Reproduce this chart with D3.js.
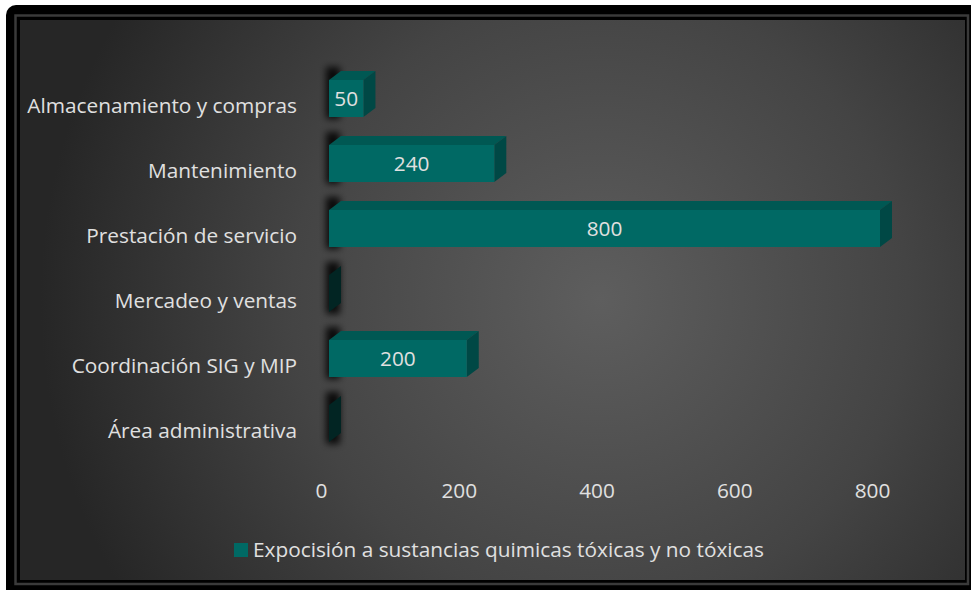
<!DOCTYPE html>
<html>
<head>
<meta charset="utf-8">
<script src="https://cdn.jsdelivr.net/npm/d3@7"></script>
<style>
  body { margin: 0; background: #fff; }
  #chart text { font-family: "Open Sans", sans-serif; fill: #e0e0e0; }
</style>
</head>
<body>
<div id="chart"></div>
<script>
const width = 971;
const height = 590;

const categories = [
  "Almacenamiento y compras",
  "Mantenimiento",
  "Prestación de servicio",
  "Mercadeo y ventas",
  "Coordinación SIG y MIP",
  "Área administrativa"
];
const values = [50, 240, 800, 0, 200, 0];
const xTicks = [0, 200, 400, 600, 800];
const seriesName = "Expocisión a sustancias quimicas tóxicas y no tóxicas";

const data = categories.map((c, i) => ({category: c, value: values[i]}));

const fontSize = 20.8;
const depthX = 12, depthY = 9;
const barH = 37;

const svg = d3.select("#chart")
  .append("svg")
  .attr("width", width)
  .attr("height", height);

const defs = svg.append("defs");
const grad = defs.append("radialGradient")
  .attr("id", "bg")
  .attr("gradientUnits", "userSpaceOnUse")
  .attr("cx", 600).attr("cy", 300).attr("r", 560);
grad.append("stop").attr("offset", "0%").attr("stop-color", "#5e5e5e");
grad.append("stop").attr("offset", "55%").attr("stop-color", "#444");
grad.append("stop").attr("offset", "100%").attr("stop-color", "#262626");

defs.append("filter").attr("id", "blur")
  .attr("x", "-50%").attr("y", "-50%").attr("width", "200%").attr("height", "200%")
  .append("feGaussianBlur").attr("stdDeviation", 3.5);

// frame
svg.append("rect")
  .attr("x", 6).attr("y", 5)
  .attr("width", 980).attr("height", 600)
  .attr("rx", 10)
  .attr("fill", "#000");
svg.append("rect")
  .attr("x", 15.5).attr("y", 15.5)
  .attr("width", 952.5).attr("height", 568.5)
  .attr("fill", "none")
  .attr("stroke", "#3a3a3a")
  .attr("stroke-width", 2.5);
svg.append("rect")
  .attr("x", 20).attr("y", 20)
  .attr("width", 945).attr("height", 560)
  .attr("fill", "url(#bg)");

const x = d3.scaleLinear().domain([0, 800]).range([329, 880]);
const y = d3.scaleBand().domain(categories).range([73.5, 463.5]);
const cy = c => y(c) + y.bandwidth() / 2;

// shadows on the wall behind the bars
svg.append("g")
  .attr("filter", "url(#blur)")
  .selectAll("rect")
  .data(data)
  .enter()
  .append("rect")
  .attr("x", x(0) - 3)
  .attr("y", d => cy(d.category) - 26 - depthY - 4)
  .attr("width", 14)
  .attr("height", barH + depthY + 6)
  .attr("fill", "#000")
  .attr("opacity", 0.85);

const bars = svg.append("g")
  .selectAll("g")
  .data(data)
  .enter()
  .append("g");

// top face
bars.filter(d => d.value > 0)
  .append("path")
  .attr("d", d => {
    const t = cy(d.category) - 26;
    const x0 = x(0), x1 = x(d.value);
    return `M${x0},${t}L${x0 + depthX},${t - depthY}L${x1 + depthX},${t - depthY}L${x1},${t}Z`;
  })
  .attr("fill", "#005853");

// side face
bars.append("path")
  .attr("d", d => {
    const t = cy(d.category) - 26;
    const x1 = x(d.value);
    return `M${x1},${t}L${x1 + depthX},${t - depthY}L${x1 + depthX},${t - depthY + barH}L${x1},${t + barH}Z`;
  })
  .attr("fill", d => d.value > 0 ? "#004845" : "#022523");

// front face
bars.filter(d => d.value > 0)
  .append("rect")
  .attr("x", x(0))
  .attr("y", d => cy(d.category) - 26)
  .attr("width", d => x(d.value) - x(0))
  .attr("height", barH)
  .attr("fill", "#006964");

// value labels
bars.filter(d => d.value > 0)
  .append("text")
  .attr("x", d => (x(0) + x(d.value)) / 2)
  .attr("y", d => cy(d.category) - 26 + barH / 2)
  .attr("dy", "0.35em")
  .attr("text-anchor", "middle")
  .style("font-size", fontSize + "px")
  .text(d => d.value);

// y axis labels
const yAxis = svg.append("g")
  .attr("transform", "translate(297,0)")
  .call(d3.axisLeft(y).tickSize(0).tickPadding(0));
yAxis.select(".domain").remove();
yAxis.selectAll("text")
  .attr("fill", null)
  .style("font-size", fontSize + "px")
  .style("font-family", null);

// x axis labels
const xAxis = svg.append("g")
  .attr("transform", "translate(-8,483)")
  .call(d3.axisBottom(x).tickValues(xTicks).tickSize(0).tickPadding(0));
xAxis.select(".domain").remove();
xAxis.selectAll("text")
  .attr("fill", null)
  .style("font-size", fontSize + "px")
  .style("font-family", null);

// legend
const legend = svg.append("g").attr("transform", "translate(234,543)");
legend.append("rect")
  .attr("width", 14).attr("height", 14)
  .attr("fill", "#006964");
legend.append("text")
  .attr("x", 19)
  .attr("y", 7)
  .attr("dy", "0.35em")
  .style("font-size", fontSize + "px")
  .text(seriesName);
</script>
</body>
</html>
